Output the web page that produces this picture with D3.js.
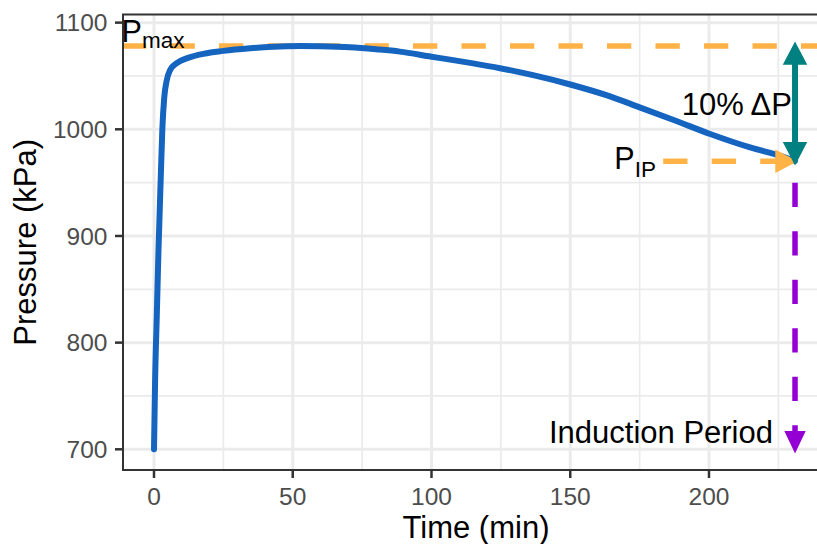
<!DOCTYPE html>
<html>
<head>
<meta charset="utf-8">
<script src="https://cdn.jsdelivr.net/npm/d3@7"></script>
<style>
  html, body { margin: 0; padding: 0; background: #fff; }
  svg { display: block; }
  text { font-family: "Liberation Sans", Arial, Helvetica, sans-serif; }
</style>
</head>
<body>
<svg id="chart" width="817" height="544"></svg>
<script>
// ---- data ----
const timeMin = [0, 0.4, 1.0, 1.6, 2.4, 3.0, 3.7, 4.6, 5.8, 8.2, 11.8, 15.9, 25, 34.6, 43, 52.6, 60, 70.6, 80, 88.6, 100, 106.7, 115, 124.7, 137, 150, 163, 175, 188, 200.4, 214.8, 226.8, 231];
const pressureKPa = [700, 765, 825, 885, 952, 1000, 1030, 1046, 1055.5, 1062, 1066.5, 1069.7, 1073.5, 1076, 1077.4, 1078, 1077.8, 1076.9, 1075, 1072.8, 1068, 1065.3, 1061.8, 1057.3, 1050.5, 1042, 1032, 1020.6, 1008, 995.6, 983, 974.3, 970.3];
const xTicks = [0, 50, 100, 150, 200];
const xMinor = [25, 75, 125, 175, 225];
const yTicks = [700, 800, 900, 1000, 1100];
const yMinor = [750, 850, 950, 1050];
const pMax = 1078;
const pIP = 970;
const tIP = 231;
const tIPArrowStart = 183.5;
const pInductionStart = 950;
const pInductionEnd = 700;

// ---- layout ----
const svg = d3.select("#chart");
const panel = { left: 123, right: 833, top: 14.5, bottom: 470 };
const x = d3.scaleLinear().domain([0, 200]).range([154, 709]);
const y = d3.scaleLinear().domain([700, 1000]).range([449.3, 129.3]);

const orange = "#FFB347", blue = "#1565C0", teal = "#008080", purple = "#9400D3";

svg.append("rect").attr("width", 817).attr("height", 544).attr("fill", "#fff");

svg.append("clipPath").attr("id", "clip").append("rect")
  .attr("x", panel.left).attr("y", panel.top)
  .attr("width", panel.right - panel.left).attr("height", panel.bottom - panel.top);

const grid = svg.append("g");
grid.selectAll(".xm").data(xMinor).join("line")
  .attr("x1", d => x(d)).attr("x2", d => x(d)).attr("y1", panel.top).attr("y2", panel.bottom)
  .attr("stroke", "#EBEBEB").attr("stroke-width", 1.7);
grid.selectAll(".ym").data(yMinor).join("line")
  .attr("y1", d => y(d)).attr("y2", d => y(d)).attr("x1", panel.left).attr("x2", panel.right)
  .attr("stroke", "#EBEBEB").attr("stroke-width", 1.7);
grid.selectAll(".xM").data(xTicks).join("line")
  .attr("x1", d => x(d)).attr("x2", d => x(d)).attr("y1", panel.top).attr("y2", panel.bottom)
  .attr("stroke", "#EBEBEB").attr("stroke-width", 3);
grid.selectAll(".yM").data(yTicks).join("line")
  .attr("y1", d => y(d)).attr("y2", d => y(d)).attr("x1", panel.left).attr("x2", panel.right)
  .attr("stroke", "#EBEBEB").attr("stroke-width", 3);

const plot = svg.append("g").attr("clip-path", "url(#clip)");

// Pmax dashed line
plot.append("line")
  .attr("x1", panel.left - 1).attr("x2", panel.right)
  .attr("y1", y(pMax)).attr("y2", y(pMax))
  .attr("stroke", orange).attr("stroke-width", 5.5).attr("stroke-dasharray", "24.3,24.2");

// pressure curve
const pts = timeMin.map((t, i) => [t, pressureKPa[i]]);
plot.append("path")
  .attr("d", d3.line().x(d => x(d[0])).y(d => y(d[1])).curve(d3.curveMonotoneX)(pts))
  .attr("fill", "none").attr("stroke", blue).attr("stroke-width", 6)
  .attr("stroke-linecap", "round").attr("stroke-linejoin", "round");

function arrowHead(g, xTip, yTip, dx, dy, color, len, half) {
  const bx = xTip - dx * len, by = yTip - dy * len;
  const px = -dy, py = dx;
  g.append("path")
    .attr("d", `M${xTip},${yTip}L${bx + px * half},${by + py * half}L${bx - px * half},${by - py * half}Z`)
    .attr("fill", color).attr("stroke", color).attr("stroke-width", 1.5).attr("stroke-linejoin", "miter");
}

// P_IP dashed arrow (horizontal)
plot.append("line")
  .attr("x1", x(tIPArrowStart)).attr("x2", x(tIP) - 14)
  .attr("y1", y(pIP)).attr("y2", y(pIP))
  .attr("stroke", orange).attr("stroke-width", 5.5).attr("stroke-dasharray", "24.3,24.2");
arrowHead(plot, x(tIP) + 1, y(pIP), 1, 0, orange, 20, 10.5);

// induction period dashed arrow (vertical)
plot.append("line")
  .attr("x1", x(tIP)).attr("x2", x(tIP))
  .attr("y1", y(pInductionStart)).attr("y2", y(pInductionEnd) - 12)
  .attr("stroke", purple).attr("stroke-width", 5.5).attr("stroke-dasharray", "24.3,24.2");
arrowHead(plot, x(tIP), y(pInductionEnd) + 2.5, 0, 1, purple, 20, 9.5);

// 10% delta P double arrow
plot.append("line")
  .attr("x1", x(tIP)).attr("x2", x(tIP))
  .attr("y1", y(pMax) + 12).attr("y2", y(pIP) - 12)
  .attr("stroke", teal).attr("stroke-width", 6);
arrowHead(plot, x(tIP), y(pMax) - 3, 0, -1, teal, 21, 11);
arrowHead(plot, x(tIP), y(pIP) + 2.5, 0, 1, teal, 21, 11);

// panel border
svg.append("rect")
  .attr("x", panel.left).attr("y", panel.top)
  .attr("width", panel.right - panel.left).attr("height", panel.bottom - panel.top)
  .attr("fill", "none").attr("stroke", "#333333").attr("stroke-width", 2);

// axes ticks + labels
const axisCol = "#333333", labCol = "#4D4D4D";
svg.selectAll(".xt").data(xTicks).join("line")
  .attr("x1", d => x(d)).attr("x2", d => x(d)).attr("y1", panel.bottom).attr("y2", panel.bottom + 8)
  .attr("stroke", axisCol).attr("stroke-width", 2.5);
svg.selectAll(".xl").data(xTicks).join("text")
  .attr("x", d => x(d)).attr("y", 505).attr("text-anchor", "middle")
  .attr("font-size", 24.5).attr("fill", labCol).text(d => d);
svg.selectAll(".yt").data(yTicks).join("line")
  .attr("y1", d => y(d)).attr("y2", d => y(d)).attr("x1", panel.left - 8).attr("x2", panel.left)
  .attr("stroke", axisCol).attr("stroke-width", 2.5);
svg.selectAll(".yl").data(yTicks).join("text")
  .attr("x", 107.5).attr("y", d => y(d) + 8.7).attr("text-anchor", "end")
  .attr("font-size", 24.5).attr("fill", labCol).text(d => d);

// axis titles
svg.append("text").attr("x", 476).attr("y", 538).attr("text-anchor", "middle")
  .attr("font-size", 31).attr("fill", "#000").text("Time (min)");
svg.append("text").attr("transform", "translate(36,242.3) rotate(-90)").attr("text-anchor", "middle")
  .attr("font-size", 31).attr("fill", "#000").text("Pressure (kPa)");

// annotations
const tPmax = svg.append("text").attr("x", 121.6).attr("y", 41.7).attr("font-size", 30.5).attr("fill", "#000");
tPmax.append("tspan").text("P");
tPmax.append("tspan").attr("font-size", 22.5).attr("dy", 6.6).text("max");

const tPip = svg.append("text").attr("x", 614.3).attr("y", 169.3).attr("font-size", 30.5).attr("fill", "#000");
tPip.append("tspan").text("P");
tPip.append("tspan").attr("font-size", 22.5).attr("dy", 7.4).text("IP");

svg.append("text").attr("x", 792).attr("y", 115).attr("text-anchor", "end")
  .attr("font-size", 31).attr("fill", "#000").text("10% \u0394P");
svg.append("text").attr("x", 773).attr("y", 442.7).attr("text-anchor", "end")
  .attr("font-size", 31).attr("fill", "#000").text("Induction Period");
</script>
</body>
</html>
